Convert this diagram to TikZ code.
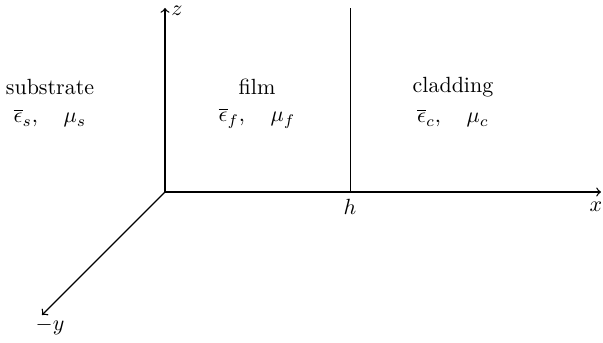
\documentclass[tikz,border=0pt]{standalone}
\begin{document}
\begin{tikzpicture}[x=0.455pt,y=-0.455pt,
  ax/.style={->,line width=0.6pt},
  lbl/.style={inner sep=0pt}]
\useasboundingbox (0,0) rectangle (603,343);
\coordinate (O) at (165,192);
\coordinate (Z) at (165,8);
\coordinate (X) at (601,192);
\coordinate (Y) at (42,315);
\coordinate (Ht) at (350,8);
\coordinate (Hb) at (350,192);
\draw[ax] (O) -- (Z);
\draw[ax] (O) -- (X);
\draw[ax] (O) -- (Y);
\draw[line width=0.35pt] (Hb) -- (Ht);
\node[lbl] (zl) at (177,11) {$z$};
\node[lbl] (xl) at (596,207) {$x$};
\node[lbl] (yl) at (50,326) {$-y$};
\node[lbl] (hl) at (350,207) {$h$};
\node[lbl] (s1) at (50,87) {substrate};
\node[lbl] (s2) at (50,118) {$\overline{\epsilon}_s,\quad \mu_s$};
\node[lbl] (f1) at (257,87) {film};
\node[lbl] (f2) at (257,118) {$\overline{\epsilon}_f,\quad \mu_f$};
\node[lbl] (c1) at (453,87) {cladding};
\node[lbl] (c2) at (453,118) {$\overline{\epsilon}_c,\quad \mu_c$};
\end{tikzpicture}
\end{document}
